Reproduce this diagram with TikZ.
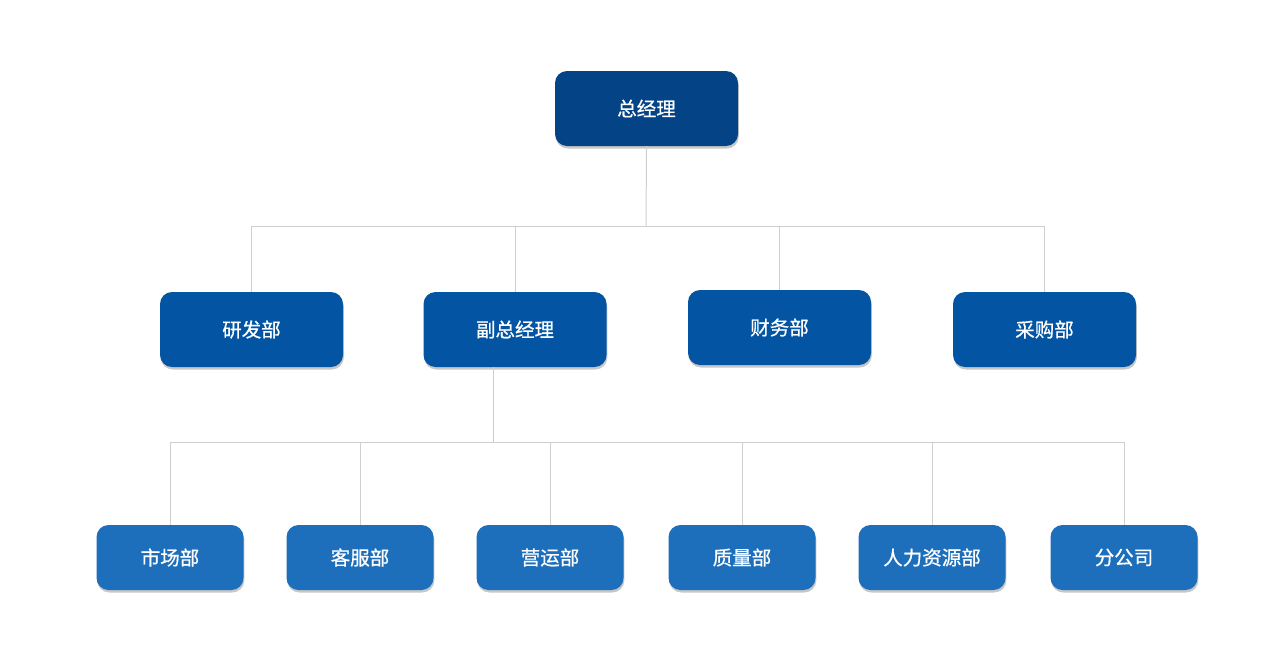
\documentclass[tikz,border=0pt]{standalone}
\usepackage{fontspec}
\newfontfamily\cjk[FakeBold=0.7]{Noto Sans CJK SC}
\usetikzlibrary{shadows,calc}
\definecolor{topblue}{HTML}{034386}
\definecolor{midblue}{HTML}{0355A3}
\definecolor{lowblue}{HTML}{1D6FBB}
\definecolor{linegray}{HTML}{CFCFCF}
\tikzset{
  boxbase/.style={rounded corners=12pt, text=white, inner sep=0pt,
    font=\cjk\fontsize{19.5}{23}\selectfont,
    drop shadow={shadow xshift=0.8pt, shadow yshift=-2.5pt, opacity=0.22, fill=black}},
  topbox/.style={boxbase, fill=topblue, minimum width=183pt, minimum height=75pt},
  midbox/.style={boxbase, fill=midblue, minimum width=183pt, minimum height=75pt},
  lowbox/.style={boxbase, fill=lowblue, minimum width=147pt, minimum height=65pt},
  conn/.style={draw=linegray, line width=1pt}
}
\begin{document}
\begin{tikzpicture}[x=1pt,y=-1pt]
\useasboundingbox (0,0) rectangle (1274,667);
\fill[white] (0,0) rectangle (1274,667);
% nodes
\node[topbox] (gm) at (646.5,108.5) {总经理};
\node[midbox] (rd) at (251.5,329.5) {研发部};
\node[midbox] (vgm) at (515,329.5) {副总经理};
\node[midbox] (fin) at (779.5,327.5) {财务部};
\node[midbox] (pur) at (1044.5,329.5) {采购部};
\node[lowbox] (mkt) at (170,557.5) {市场部};
\node[lowbox] (cs) at (360,557.5) {客服部};
\node[lowbox] (ops) at (550,557.5) {营运部};
\node[lowbox] (qa) at (742,557.5) {质量部};
\node[lowbox] (hr) at (932,557.5) {人力资源部};
\node[lowbox] (br) at (1124,557.5) {分公司};
% bus coordinates
\coordinate (bus1) at (646,226);
\coordinate (vgmout) at (493,367);
\coordinate (bus2) at (493,442);
% connectors
\draw[conn] (gm.south) -- (bus1);
\draw[conn] (bus1) -| (rd.north);
\draw[conn] (bus1) -| (vgm.north);
\draw[conn] (bus1) -| (fin.north);
\draw[conn] (bus1) -| (pur.north);
\draw[conn] (vgmout) -- (bus2);
\draw[conn] (bus2) -| (mkt.north);
\draw[conn] (bus2) -| (cs.north);
\draw[conn] (bus2) -| (ops.north);
\draw[conn] (bus2) -| (qa.north);
\draw[conn] (bus2) -| (hr.north);
\draw[conn] (bus2) -| (br.north);
\end{tikzpicture}
\end{document}
